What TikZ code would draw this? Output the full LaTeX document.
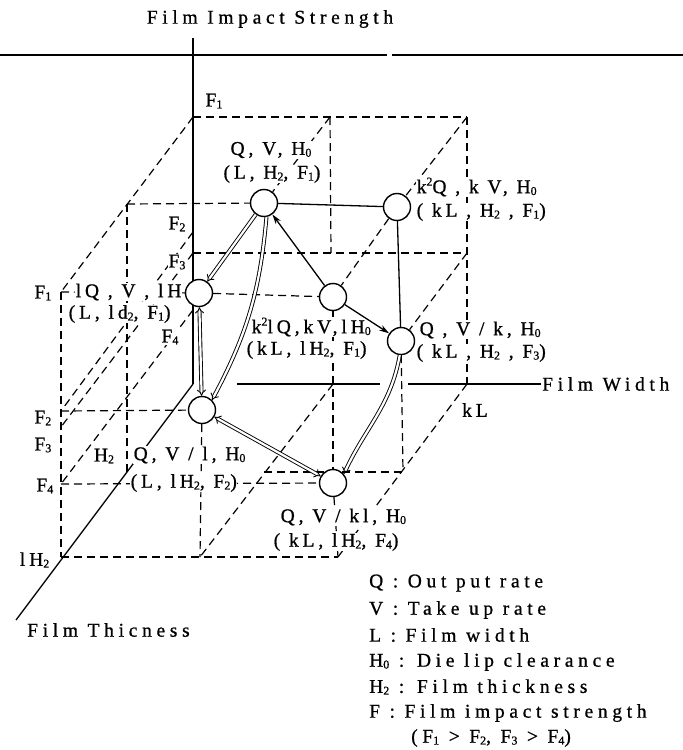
\documentclass[tikz,border=0pt]{standalone}
\usepackage{fontspec}
\setmainfont{Liberation Serif}
\newfontfamily\lblfont{Liberation Serif}[LetterSpace=20, FakeBold=0.8]
\newfontfamily\widefont{Liberation Serif}[LetterSpace=24, FakeBold=0.8]
\newfontfamily\smfont{Liberation Serif}[FakeBold=0.8]
\usetikzlibrary{arrows.meta,backgrounds}
\newcommand{\sbs}[1]{\raisebox{-0.2ex}{\smfont\fontsize{12}{12}\selectfont #1}}
\newcommand{\sps}[1]{\raisebox{0.85ex}{\smfont\fontsize{12}{12}\selectfont #1}}
\tikzset{
  dsh/.style={dash pattern=on 8pt off 5pt, line width=1.2pt},
  sol/.style={line width=1.3pt},
  st/.style={circle, draw, fill=white, line width=1.4pt, minimum size=27pt, inner sep=0pt},
  lbl/.style={font=\lblfont\fontsize{19.5}{19.5}\selectfont, fill=white, inner sep=0.5pt},
  wlbl/.style={font=\widefont\fontsize{19.5}{19.5}\selectfont, inner sep=1pt},
  dbl/.style={double, double distance=2.2pt, line width=0.9pt, -{Implies}},
  dbltwo/.style={double, double distance=2.2pt, line width=0.9pt, {Implies}-{Implies}},
  sarr/.style={line width=1.3pt, -{Stealth[length=10pt, width=6pt]}},
}
\begin{document}
\begin{tikzpicture}[x=1pt,y=-1pt]
\useasboundingbox (0,0) rectangle (683,750);
% cube corners
\coordinate (btl) at (193,117);
\coordinate (btm) at (330,117);
\coordinate (btr) at (467,117);
\coordinate (bf3m) at (331,253);
\coordinate (mtl) at (127,204);
\coordinate (ftl) at (61,292);
\coordinate (bf2) at (193,232);
\coordinate (bf3) at (193,253);
\coordinate (bf4) at (193,310);
\coordinate (ff2) at (61,411);
\coordinate (ff3) at (61,427);
\coordinate (ff4) at (61,484);
\coordinate (ffl) at (61,557);
\coordinate (bf3r) at (467,253);
\coordinate (bflr) at (467,384);
\coordinate (mflr) at (403,472);
\coordinate (mflL) at (264,472);
\coordinate (fflL) at (200,557);
\coordinate (fflr) at (338,557);
\coordinate (bflL) at (333,384);
\coordinate (mfll) at (127,472);
\coordinate (O) at (193,384);
\coordinate (ztop) at (193,38);
\coordinate (tend) at (16,620);
\coordinate (w1) at (237,384);
\coordinate (w2) at (380,384);
\coordinate (w3) at (408,384);
\coordinate (h1) at (0,55);
\coordinate (h2) at (387,55);
\coordinate (h3) at (392,55);
\coordinate (h4) at (683,55);
% state circles
\node[st] (A) at (264,203) {};
\node[st] (B) at (397,207) {};
\node[st] (C) at (199,293) {};
\node[st] (D) at (333,297) {};
\node[st] (E) at (401,341) {};
\node[st] (G) at (202,410) {};
\node[st] (H) at (333,483) {};
% axis labels
\node[wlbl] (ttl) at (270,19) {Film Impact Strength};
\node[wlbl, anchor=west] (wid) at (541,384) {Film Width};
\node[wlbl, anchor=west] (thk) at (26,630) {Film Thicness};
\begin{scope}[on background layer]
\draw[sol] (h1) -- (h2);
\draw[sol] (h3) -- (h4);
\draw[sol] (ztop) -- (O);
\draw[sol] (O) -- (tend);
\draw[sol] (w1) -- (w2);
\draw[sol] (w3) -- (wid.west);
\draw[dsh] (btl) -- (btr);
\draw[dsh] (btl) -- (ftl);
\draw[dsh] (btm) -- (A);
\draw[dsh] (btr) -- (B);
\draw[dsh] (B) -- (D);
\draw[dsh] (btm) -- (bf3m);
\draw[dsh] (btr) -- (bflr);
\draw[dsh] (bf3) -- (bf3r);
\draw[dsh] (mtl) -- (A);
\draw[dsh] (mtl) -- (mfll);
\draw[dsh] (ftl) -- (ffl);
\draw[dsh] (ftl) -- (C);
\draw[dsh] (C) -- (D);
\draw[dsh] (bf2) -- (ff2);
\draw[dsh] (bf3) -- (ff3);
\draw[dsh] (bf4) -- (ff4);
\draw[dsh] (ff2) -- (G);
\draw[dsh] (ff4) -- (H);
\draw[dsh] (ffl) -- (fflr);
\draw[dsh] (G) -- (fflL);
\draw[dsh] (D) -- (H);
\draw[dsh] (H) -- (fflr);
\draw[dsh] (bflL) -- (fflL);
\draw[dsh] (mflL) -- (mflr);
\draw[dsh] (E) -- (mflr);
\draw[dsh] (bflr) -- (fflr);
\draw[dsh] (bf3r) -- (E);
\end{scope}
% level labels
\node[lbl] (lf1t) at (214,101) {F\sbs{1}};
\node[lbl] (lf2b) at (177,224) {F\sbs{2}};
\node[lbl] (lf3b) at (177,262) {F\sbs{3}};
\node[lbl] (lf4b) at (170,337) {F\sbs{4}};
\node[lbl] (lh2b) at (104,456) {H\sbs{2}};
\node[lbl, anchor=east] (lf1) at (52,293) {F\sbs{1}};
\node[lbl, anchor=east] (lf2) at (52,418) {F\sbs{2}};
\node[lbl, anchor=east] (lf3) at (52,445) {F\sbs{3}};
\node[lbl, anchor=east] (lf4) at (54,486) {F\sbs{4}};
\node[lbl, anchor=east] (llh) at (50,560) {lH\sbs{2}};
\node[lbl] (lkl) at (475,410) {kL};
% state labels
\node[lbl] (A1) at (271,150) {Q, V, H\sbs{0}};
\node[lbl] (A2) at (272,174) {(L, H\sbs{2}, F\sbs{1})};
\node[lbl, anchor=west] (B1) at (416,187) {k\sps{2}Q , k V, H\sbs{0}};
\node[lbl, anchor=west] (B2) at (416,212) {( kL , H\sbs{2} , F\sbs{1})};
\node[lbl, anchor=west] (C1) at (75,292) {lQ , V , lH};
\node[lbl, anchor=west] (C2) at (68,314) {(L, ld\sbs{2}, F\sbs{1})};
\node[lbl, anchor=west] (D1) at (251,327) {k\sps{2}lQ,kV,lH\sbs{0}};
\node[lbl, anchor=west] (D2) at (246,350) {(kL, lH\sbs{2}, F\sbs{1})};
\node[lbl, anchor=west] (E1) at (419,330) {Q , V / k, H\sbs{0}};
\node[lbl, anchor=west] (E2) at (416,353) {( kL , H\sbs{2} , F\sbs{3})};
\node[lbl, anchor=west] (G1) at (133,455) {Q, V / l, H\sbs{0}};
\node[lbl, anchor=west] (G2) at (130,483) {(L, lH\sbs{2}, F\sbs{2})};
\node[lbl, anchor=west] (H1) at (280,517) {Q, V / kl, H\sbs{0}};
\node[lbl, anchor=west] (H2) at (273,542) {( kL, lH\sbs{2}, F\sbs{4})};
% connectors
\draw[sol] (A) -- (B);
\draw[sol] (B) -- (E);
\draw[dbl] (A) -- (C);
\draw[dbl] (A.-80) to[out=-95,in=62] (G.45);
\draw[sarr] (D) -- (A);
\draw[sarr] (D) -- (E);
\draw[dbltwo] (C) -- (G);
\draw[dbltwo] (G) -- (H);
\draw[dbl] (E.-95) to[out=-100,in=65] (H.40);
% legend
\begin{scope}[every node/.style={wlbl, anchor=west}]
\node (k1) at (368,583) {Q : Out put rate};
\node (k2) at (368,610) {V : Take up rate};
\node (k3) at (368,635) {L : Film width};
\node (k4) at (368,662) {H\sbs{0} : Die lip clearance};
\node (k5) at (368,687) {H\sbs{2} : Film thickness};
\node (k6) at (368,713) {F : Film impact strength};
\node (k7) at (410,738) {(F\sbs{1} > F\sbs{2}, F\sbs{3} > F\sbs{4})};
\end{scope}
\end{tikzpicture}
\end{document}
